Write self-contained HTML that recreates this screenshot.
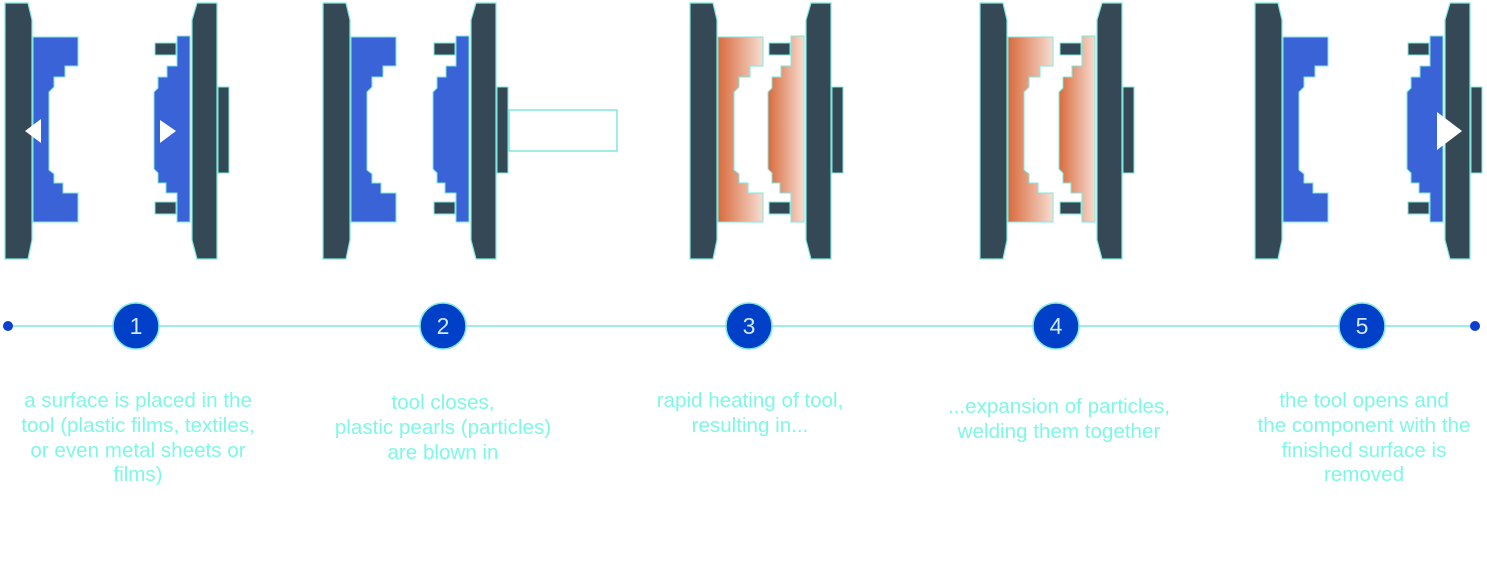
<!DOCTYPE html>
<html><head><meta charset="utf-8"><style>
html,body{margin:0;padding:0;background:#fff;width:1487px;height:565px;overflow:hidden}
svg{display:block}
text{font-family:"Liberation Sans",sans-serif;fill:#7ef8e6;font-size:20.6px;text-anchor:middle}
</style></head><body>
<svg width="1487" height="565" viewBox="0 0 1487 565" xmlns="http://www.w3.org/2000/svg">
<defs>
<linearGradient id="og" x1="0" y1="0" x2="1" y2="0">
<stop offset="0" stop-color="#d96a3c"/><stop offset="1" stop-color="#f6ddd2"/>
</linearGradient>
<g id="lplate"><path d="M5,3 H28 L32,20 V240 L28,259 H5 Z" fill="#344955" stroke="#7fe9dd" stroke-width="1.2"/></g>
<g id="rplate"><path d="M197,3 H217 V259 H197 L192,240 V20 Z" fill="#344955" stroke="#7fe9dd" stroke-width="1.2"/>
<rect x="218" y="87" width="11" height="86" fill="#344955" stroke="#7fe9dd" stroke-width="1"/>
<rect x="155" y="43" width="21" height="12" fill="#344955" stroke="#7fe9dd" stroke-width="1"/>
<rect x="155" y="202" width="21" height="12" fill="#344955" stroke="#7fe9dd" stroke-width="1"/></g>
<path id="lpart" d="M33,37 H78 V66 H65 V77 H54 V87 L49,92 V170 L54,174 V183 H63 V193 H78 V222 H33 Z"/>
<path id="rpart" d="M177,36 H190 V222 H177 V193 H166 V183 H158 V173 L154,169 V92 L158,88 V77 H167 V66 H177 Z"/>
</defs>
<use href="#lplate"/><use href="#lpart" fill="#3a63d8" stroke="#7fe9dd" stroke-width="1"/>
<use href="#rplate"/><use href="#rpart" fill="#3a63d8" stroke="#7fe9dd" stroke-width="1"/>
<polygon points="25,131 41,119 41,143" fill="#fff"/>
<polygon points="160,120 176,131 160,143" fill="#fff"/>
<g transform="translate(318,0)"><use href="#lplate"/><use href="#lpart" fill="#3a63d8" stroke="#7fe9dd" stroke-width="1"/></g>
<g transform="translate(279,0)"><use href="#rplate"/><use href="#rpart" fill="#3a63d8" stroke="#7fe9dd" stroke-width="1"/></g>
<rect x="509" y="110" width="108" height="41" fill="#fff" stroke="#7fe9dd" stroke-width="1.5"/>
<g transform="translate(685,0)"><use href="#lplate"/><use href="#lpart" fill="url(#og)" stroke="#7fe9dd" stroke-width="1"/></g>
<g transform="translate(614,0)"><use href="#rplate"/><use href="#rpart" fill="url(#og)" stroke="#7fe9dd" stroke-width="1"/></g>
<g transform="translate(975,0)"><use href="#lplate"/><use href="#lpart" fill="url(#og)" stroke="#7fe9dd" stroke-width="1"/></g>
<g transform="translate(905,0)"><use href="#rplate"/><use href="#rpart" fill="url(#og)" stroke="#7fe9dd" stroke-width="1"/></g>
<g transform="translate(1250,0)"><use href="#lplate"/><use href="#lpart" fill="#3a63d8" stroke="#7fe9dd" stroke-width="1"/></g>
<g transform="translate(1253,0)"><use href="#rplate"/><use href="#rpart" fill="#3a63d8" stroke="#7fe9dd" stroke-width="1"/></g>
<polygon points="1437,112 1462,131 1437,150" fill="#fff"/>
<line x1="8" y1="326" x2="1475" y2="326" stroke="#7fe9dd" stroke-width="1.5"/>
<circle cx="8" cy="326" r="5" fill="#0a3fcf"/>
<circle cx="1475" cy="326" r="5" fill="#0a3fcf"/>
<g fill="#0040c8" stroke="#7fe9dd" stroke-width="1.5">
<circle cx="136" cy="326" r="23"/><circle cx="443" cy="326" r="23"/><circle cx="749" cy="326" r="23"/><circle cx="1056" cy="326" r="23"/><circle cx="1362" cy="326" r="23"/>
</g>
<text x="136" y="334" style="fill:#cfe9ff;font-size:23px">1</text>
<text x="443" y="334" style="fill:#cfe9ff;font-size:23px">2</text>
<text x="749" y="334" style="fill:#cfe9ff;font-size:23px">3</text>
<text x="1056" y="334" style="fill:#cfe9ff;font-size:23px">4</text>
<text x="1362" y="334" style="fill:#cfe9ff;font-size:23px">5</text>
<text x="138" y="407">a surface is placed in the</text>
<text x="138" y="432">tool (plastic films, textiles,</text>
<text x="138" y="457">or even metal sheets or</text>
<text x="138" y="481">films)</text>
<text x="443" y="409">tool closes,</text>
<text x="443" y="434">plastic pearls (particles)</text>
<text x="443" y="459">are blown in</text>
<text x="750" y="407">rapid heating of tool,</text>
<text x="750" y="432">resulting in...</text>
<text x="1059" y="413">...expansion of particles,</text>
<text x="1059" y="438">welding them together</text>
<text x="1364" y="407">the tool opens and</text>
<text x="1364" y="432">the component with the</text>
<text x="1364" y="457">finished surface is</text>
<text x="1364" y="481">removed</text>
</svg>
</body></html>
